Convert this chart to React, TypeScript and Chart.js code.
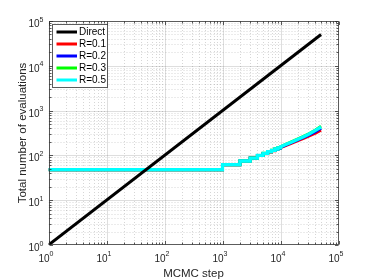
import React, { useEffect, useRef } from "react";
import { Chart, registerables } from "chart.js";

Chart.register(...registerables);

// ---- data ----
const directX = [1, 50000];
const directY = [1, 50000];

const stepsX = [1, 1000, 2000, 3000, 4000, 5000, 6000, 7000, 8000, 9000, 10000, 12000, 15000, 20000, 25000, 30000, 40000, 50000];
const r01 = [48, 62, 75, 87, 100, 110, 119, 127, 135, 142, 149, 163, 183, 213, 240, 265, 315, 365];
const r02 = [48, 62, 75, 87, 100, 110, 120, 129, 137, 145, 152, 168, 190, 222, 252, 280, 340, 405];
const r03 = [48, 62, 75, 87, 100, 111, 121, 131, 140, 148, 156, 173, 197, 233, 266, 297, 370, 445];
const r05 = [48, 62, 75, 87, 100, 111, 121, 130, 139, 147, 155, 172, 195, 230, 262, 292, 362, 430];
const stepLimit = 10000; // staircase updates visible up to here

const seriesLabels = ["Direct", "R=0.1", "R=0.2", "R=0.3", "R=0.5"];
const seriesColors = ["#000000", "#ff0000", "#0000ff", "#00ff00", "#00ffff"];

const exponents = [0, 1, 2, 3, 4, 5];
const xTitle = "MCMC step";
const yTitle = "Total number of evaluations";

function buildStairs(xs: number[], ys: number[]) {
  const pts: { x: number; y: number }[] = [];
  for (let i = 0; i < xs.length; i++) {
    if (i > 0 && xs[i] <= stepLimit) pts.push({ x: xs[i], y: ys[i - 1] });
    pts.push({ x: xs[i], y: ys[i] });
  }
  return pts;
}

const FONT = '"Liberation Sans", Arial, sans-serif';

const matlabPlugin = {
  id: "matlabAxes",
  beforeDatasetsDraw(chart: any) {
    const { ctx, chartArea: a, scales } = chart;
    const xs = scales.x, ys = scales.y;
    ctx.save();
    ctx.beginPath();
    ctx.rect(a.left, a.top, a.right - a.left, a.bottom - a.top);
    ctx.clip();
    ctx.lineWidth = 1;
    for (let k = 0; k < 5; k++) {
      for (let m = 1; m <= 9; m++) {
        const v = m * Math.pow(10, k);
        const major = m === 1;
        ctx.strokeStyle = major ? "rgba(0,0,0,0.13)" : "rgba(0,0,0,0.16)";
        ctx.setLineDash(major ? [] : [1, 2]);
        const px = Math.round(xs.getPixelForValue(v)) + 0.5;
        ctx.beginPath();
        ctx.moveTo(px, a.top);
        ctx.lineTo(px, a.bottom);
        ctx.stroke();
        const py = Math.round(ys.getPixelForValue(v)) + 0.5;
        ctx.beginPath();
        ctx.moveTo(a.left, py);
        ctx.lineTo(a.right, py);
        ctx.stroke();
      }
    }
    ctx.restore();
  },
  afterDatasetsDraw(chart: any) {
    const { ctx, chartArea: a, scales } = chart;
    const xs = scales.x, ys = scales.y;
    ctx.save();
    const axisColor = "rgba(38,38,38,0.75)";
    ctx.strokeStyle = axisColor;
    ctx.lineWidth = 1;
    ctx.setLineDash([]);
    const L = Math.round(a.left) + 0.5, R = Math.round(a.right) - 0.5;
    const T = Math.round(a.top) + 0.5, B = Math.round(a.bottom) - 0.5;
    // ticks
    for (let k = 0; k <= 5; k++) {
      for (let m = 1; m <= 9; m++) {
        const v = m * Math.pow(10, k);
        if (v > 1e5) break;
        const len = m === 1 ? 3.5 : 2;
        const px = Math.round(xs.getPixelForValue(v)) + 0.5;
        const py = Math.round(ys.getPixelForValue(v)) + 0.5;
        ctx.beginPath();
        ctx.moveTo(px, B); ctx.lineTo(px, B - len);
        ctx.moveTo(px, T); ctx.lineTo(px, T + len);
        ctx.moveTo(L, py); ctx.lineTo(L + len, py);
        ctx.moveTo(R, py); ctx.lineTo(R - len, py);
        ctx.stroke();
      }
    }
    // box
    ctx.strokeRect(L, T, R - L, B - T);

    // tick labels
    ctx.fillStyle = "#262626";
    ctx.textBaseline = "alphabetic";
    const baseFont = "10px " + FONT;
    const expFont = "7px " + FONT;
    exponents.forEach((e) => {
      const v = Math.pow(10, e);
      ctx.font = baseFont;
      const w10 = ctx.measureText("10").width;
      ctx.font = expFont;
      const we = ctx.measureText(String(e)).width;
      // x axis
      const px = xs.getPixelForValue(v);
      const sx = px - 2.5 - (w10 + we) / 2;
      ctx.textAlign = "left";
      ctx.font = baseFont;
      ctx.fillText("10", sx, a.bottom + 17);
      ctx.font = expFont;
      ctx.fillText(String(e), sx + w10, a.bottom + 11);
      // y axis
      const py = ys.getPixelForValue(v);
      const ex = a.left - 5 - we - w10;
      ctx.font = baseFont;
      ctx.fillText("10", ex, py + 6);
      ctx.font = expFont;
      ctx.fillText(String(e), ex + w10, py + 0.5);
    });

    // axis titles
    ctx.font = "11.5px " + FONT;
    ctx.textAlign = "center";
    ctx.fillText(xTitle, (a.left + a.right) / 2, a.bottom + 32);
    ctx.save();
    ctx.translate(25.5, (a.top + a.bottom) / 2);
    ctx.rotate(-Math.PI / 2);
    ctx.fillText(yTitle, 0, 0);
    ctx.restore();

    // legend
    const lx = 52.5, ly = 24.5, lw = 55, lh = 63;
    ctx.fillStyle = "#ffffff";
    ctx.fillRect(lx, ly, lw, lh);
    ctx.strokeStyle = "rgba(38,38,38,0.75)";
    ctx.strokeRect(lx, ly, lw, lh);
    ctx.font = "10px " + FONT;
    ctx.textAlign = "left";
    ctx.textBaseline = "middle";
    chart.data.datasets.forEach((ds: any, i: number) => {
      const y = 32 + i * 12;
      ctx.strokeStyle = ds.borderColor;
      ctx.lineWidth = 3;
      ctx.beginPath();
      ctx.moveTo(56.5, y);
      ctx.lineTo(77, y);
      ctx.stroke();
      ctx.fillStyle = "#000";
      ctx.fillText(ds.label, 79, y + 0.5);
    });
    ctx.restore();
  },
};

export default function App() {
  const ref = useRef<HTMLCanvasElement | null>(null);
  useEffect(() => {
    if (!ref.current) return;
    const seriesY = [r01, r02, r03, r05];
    const datasets: any[] = [
      {
        label: seriesLabels[0],
        data: directX.map((x, i) => ({ x, y: directY[i] })),
        borderColor: seriesColors[0],
        borderWidth: 3,
        order: 0,
      },
      ...seriesY.map((ys, i) => ({
        label: seriesLabels[i + 1],
        data: buildStairs(stepsX, ys),
        borderColor: seriesColors[i + 1],
        borderWidth: i === 3 ? 3.3 : 3,
        order: 4 - i,
      })),
    ].map((d) => ({
      ...d,
      pointRadius: 0,
      fill: false,
      tension: 0,
      borderJoinStyle: "miter",
      borderCapStyle: "butt",
    }));
    const chart = new Chart(ref.current, {
      type: "line",
      data: { datasets },
      options: {
        animation: false,
        responsive: true,
        maintainAspectRatio: false,
        devicePixelRatio: 1,
        layout: { padding: { left: 48.5, top: 21, right: 35.5, bottom: 35 } },
        scales: {
          x: {
            type: "logarithmic",
            min: 1,
            max: 100000,
            ticks: { display: false },
            grid: { display: false, drawTicks: false },
            border: { display: false },
          },
          y: {
            type: "logarithmic",
            min: 1,
            max: 100000,
            ticks: { display: false },
            grid: { display: false, drawTicks: false },
            border: { display: false },
          },
        },
        plugins: {
          legend: { display: false },
          tooltip: { enabled: false },
        },
      } as any,
      plugins: [matlabPlugin],
    });
    return () => chart.destroy();
  }, []);
  return (
    <div style={{ position: "fixed", left: 0, top: 0, width: 374, height: 280, background: "#fff" }}>
      <canvas ref={ref} />
    </div>
  );
}
